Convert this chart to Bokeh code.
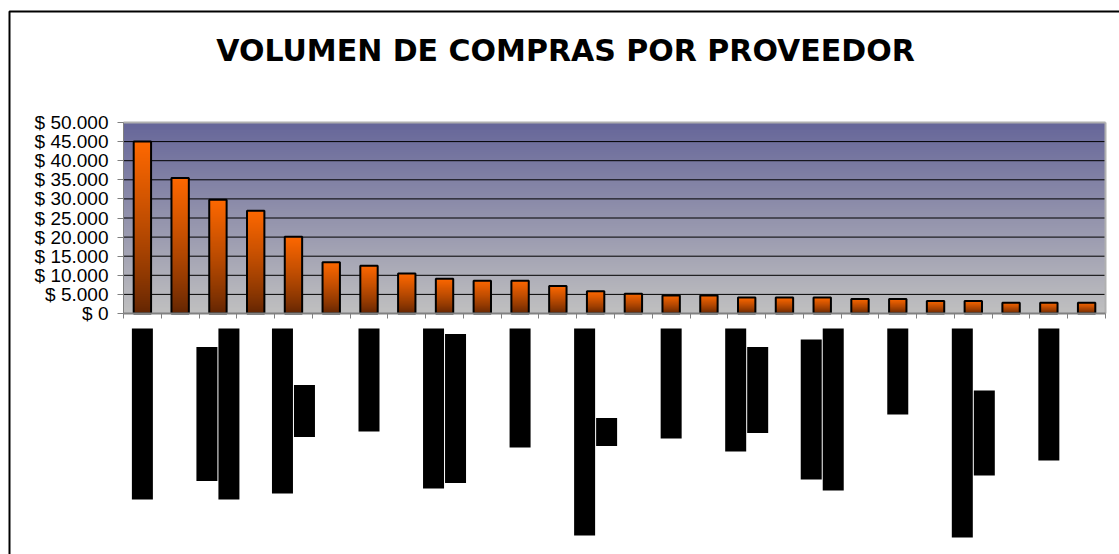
import numpy as np
from bokeh.plotting import figure
from bokeh.models import Range1d, FixedTicker, Label
from bokeh.embed import file_html
from bokeh.resources import INLINE

# ---- data -------------------------------------------------------------
titulo = "VOLUMEN DE COMPRAS POR PROVEEDOR"

# purchase volume per supplier, sorted from largest to smallest
valores = [45000, 35500, 29800, 26900, 20100, 13400, 12500, 10500, 9100,
           8600, 8600, 7200, 5800, 5200, 4700, 4700, 4200, 4200, 4200,
           3800, 3800, 3300, 3300, 2800, 2800, 2800]

y_ticks = [0, 5000, 10000, 15000, 20000, 25000, 30000, 35000, 40000, 45000, 50000]
y_tick_labels = ["$ 0", "$ 5.000", "$ 10.000", "$ 15.000", "$ 20.000", "$ 25.000",
                 "$ 30.000", "$ 35.000", "$ 40.000", "$ 45.000", "$ 50.000"]

# supplier names are blacked out: one black strip per text line of each
# (vertical) category label -> category index, line number, strip length
etiqueta_cat = [0, 2, 2, 4, 4, 6, 8, 8, 10, 12, 12, 14, 16, 16, 18, 18, 20, 22, 22, 24]
etiqueta_linea = [0, 0, 1, 0, 1, 0, 0, 1, 0, 0, 1, 0, 0, 1, 0, 1, 0, 0, 1, 0]
etiqueta_largo = [171, 134, 171, 165, 52, 103, 160, 149, 119, 207, 28, 110,
                  123, 86, 140, 162, 86, 209, 85, 132]

# ---- page geometry (pixels) ------------------------------------------
W, H = 1119, 554
N = len(valores)
X0, X1 = 123.0, 1105.0          # left / right edge of the category axis
Y0, Y50 = 313.0, 122.0          # pixel row of $0 and of $50.000
YMAX = 50000
LAB_TOP = 328.0                 # top of the label strips

ux = (X1 - X0) / N
uy = (Y0 - Y50) / YMAX


def px_x(px):
    return (px - X0) / ux


def px_y(py):
    return (Y0 - py) / uy


p = figure(width=W, height=H, output_backend="svg", toolbar_location=None,
           x_range=Range1d(px_x(0), px_x(W)), y_range=Range1d(px_y(H), px_y(0)),
           min_border=0, min_border_left=0, min_border_right=0,
           min_border_top=0, min_border_bottom=0)
p.title.visible = False
p.outline_line_color = None
p.background_fill_color = "white"
p.border_fill_color = "white"
p.grid.visible = False

# ---- plot area background: vertical gradient slate blue -> grey -------
def gradient(bottom_rgb, top_rgb, rows=256, power=1.0):
    t = (np.linspace(0.0, 1.0, rows) ** power)[:, None]
    b = np.array(bottom_rgb, dtype=float)
    tp = np.array(top_rgb, dtype=float)
    rgb = b + (tp - b) * t
    img = np.empty((rows, 1), dtype=np.uint32)
    view = img.view(dtype=np.uint8).reshape((rows, 1, 4))
    view[:, :, 0:3] = rgb[:, None, :].round().astype(np.uint8)
    view[:, :, 3] = 255
    return img


bg = gradient((192, 192, 192), (102, 102, 153))
p.image_rgba(image=[bg], x=0, y=0, dw=N, dh=YMAX)

# horizontal grid lines at every tick above zero
grid_y = y_ticks[1:-1]
p.segment(x0=[0] * len(grid_y), x1=[N] * len(grid_y), y0=grid_y, y1=grid_y,
          line_color="black", line_width=1)
p.segment(x0=[0, N], x1=[N, N], y0=[YMAX, 0], y1=[YMAX, YMAX],
          line_color="#b0b0b0", line_width=2)

# ---- bars: orange -> dark brown gradient, black outline --------------
bw = 0.46
xc = [i + 0.5 for i in range(N)]
bar_img = gradient((96, 36, 2), (255, 104, 0), power=0.8)
p.image_rgba(image=[bar_img] * N, x=[c - bw / 2 for c in xc], y=[0] * N,
             dw=[bw] * N, dh=valores)
p.vbar(x=xc, top=valores, bottom=0, width=bw, fill_color=None,
       line_color="black", line_width=2)

# ---- blacked-out category labels ------------------------------------
p.extra_y_ranges = {"etiquetas": Range1d(H - LAB_TOP, -LAB_TOP)}
pitch = 22.0 / ux
lw = 21.0 / ux
n_lineas = {}
max_largo = {}
for c, k, l in zip(etiqueta_cat, etiqueta_linea, etiqueta_largo):
    n_lineas[c] = max(n_lineas.get(c, 0), k + 1)
    max_largo[c] = max(max_largo.get(c, 0), l)
lx = [c + 0.5 + (k - (n_lineas[c] - 1) / 2) * pitch
      for c, k in zip(etiqueta_cat, etiqueta_linea)]
ltop = [(max_largo[c] - l) / 2 for c, l in zip(etiqueta_cat, etiqueta_largo)]
lbot = [t + l for t, l in zip(ltop, etiqueta_largo)]
p.quad(left=[x - lw / 2 for x in lx], right=[x + lw / 2 for x in lx],
       top=ltop, bottom=lbot, y_range_name="etiquetas",
       fill_color="black", line_color=None)

# ---- axes -------------------------------------------------------------
ya = p.yaxis[0]
ya.fixed_location = 0
ya.bounds = (0, YMAX)
ya.ticker = FixedTicker(ticks=y_ticks)
ya.major_label_overrides = dict(zip(y_ticks, y_tick_labels))
ya.axis_line_color = "#808080"
ya.axis_line_width = 1
ya.major_tick_line_color = "#808080"
ya.major_tick_out = 6
ya.major_tick_in = 0
ya.minor_tick_line_color = None
ya.major_label_standoff = 9
ya.major_label_text_font = "Liberation Sans"
ya.major_label_text_font_size = "19px"
ya.major_label_text_color = "black"

# category axis: tick marks between bars only, no tick labels
xa = p.xaxis[0]
xa.fixed_location = 0
xa.bounds = (0, N)
xa.ticker = FixedTicker(ticks=list(range(N + 1)))
xa.major_label_text_color = None
xa.axis_line_color = "#808080"
xa.axis_line_width = 2
xa.major_tick_line_color = "#808080"
xa.major_tick_out = 5
xa.major_tick_in = 0
xa.minor_tick_line_color = None

# ---- title and chart border ------------------------------------------
p.add_layout(Label(x=px_x(565), y=px_y(50), text=titulo, text_align="center",
                   text_baseline="middle", text_font="DejaVu Sans",
                   text_font_style="bold", text_font_size="30px",
                   text_color="black"))
p.line(x=[px_x(9), px_x(9), px_x(W + 5)], y=[px_y(H + 5), px_y(11), px_y(11)],
       line_color="black", line_width=2)

open("out.html", "w").write(file_html(p, INLINE))
